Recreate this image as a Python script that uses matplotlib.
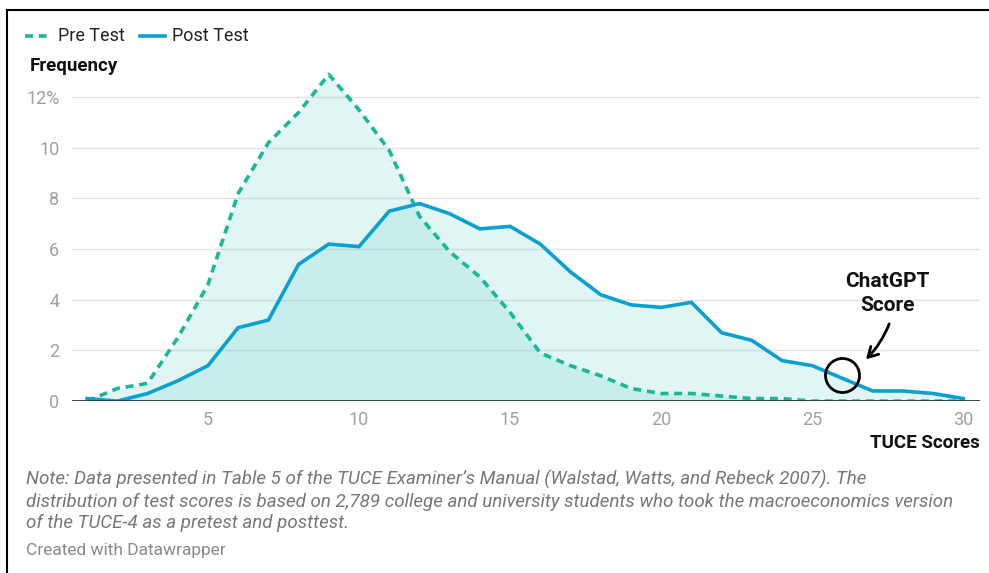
import matplotlib.pyplot as plt
from matplotlib.lines import Line2D

plt.rcParams['font.family'] = ['Roboto', 'DejaVu Sans']

# TUCE score distributions (percent of students)
scores = list(range(1, 31))
pre_test = [0.0, 0.5, 0.7, 2.5, 4.6, 8.2, 10.2, 11.4, 12.9, 11.5,
            9.9, 7.3, 5.9, 4.9, 3.5, 1.9, 1.4, 1.0, 0.5, 0.3,
            0.3, 0.2, 0.1, 0.1, 0.0, 0.0, 0.0, 0.0, 0.0, 0.0]
post_test = [0.1, 0.0, 0.3, 0.8, 1.4, 2.9, 3.2, 5.4, 6.2, 6.1,
             7.5, 7.8, 7.4, 6.8, 6.9, 6.2, 5.1, 4.2, 3.8, 3.7,
             3.9, 2.7, 2.4, 1.6, 1.4, 0.9, 0.4, 0.4, 0.3, 0.1]
chatgpt_score = 26
yticks = [0, 2, 4, 6, 8, 10, 12]
ytick_labels = ['0', '2', '4', '6', '8', '10', '12%']
xticks = [5, 10, 15, 20, 25, 30]

pre_color = '#17b897'
post_color = '#0aa0d0'
fill_color = '#38c2c2'

fig = plt.figure(figsize=(9.89, 5.73), dpi=100)
ax = fig.add_axes([0.0728, 0.300, 0.918, 0.579])

ax.fill_between(scores, pre_test, 0, color=fill_color, alpha=0.15, lw=0)
ax.fill_between(scores, post_test, 0, color=fill_color, alpha=0.15, lw=0)
ax.plot(scores, pre_test, color=pre_color, lw=2.6, ls=(0, (2.2, 1.6)))
ax.plot(scores, post_test, color=post_color, lw=2.6, solid_joinstyle='miter')

ax.set_xlim(0.5, 30.55)
ax.set_ylim(0, 13.1)
ax.set_yticks(yticks)
ax.set_yticklabels(ytick_labels)
ax.set_xticks(xticks)
ax.grid(axis='y', color='#e3e3e3', lw=1)
ax.set_axisbelow(True)
ax.axhline(0, color='#333333', lw=2, zorder=5)
for s in ax.spines.values():
    s.set_visible(False)
ax.tick_params(length=0, colors='#a0a0a0', labelsize=13)
ax.tick_params(axis='y', pad=9)
ax.tick_params(axis='x', pad=7)

# ChatGPT score marker
cy = post_test[scores.index(chatgpt_score)] + 0.15
ax.plot([chatgpt_score], [cy], marker='o', ms=24.5, mfc='none', mec='black',
        mew=2, zorder=6)
ax.annotate('', xy=(chatgpt_score + 0.78, cy + 0.6),
            xytext=(chatgpt_score + 1.55, cy + 2.0),
            arrowprops=dict(arrowstyle='->,head_length=0.7,head_width=0.4',
                            color='black', lw=2, shrinkA=0, shrinkB=0,
                            connectionstyle='arc3,rad=-0.1'))
ax.text(chatgpt_score + 1.5, cy + 3.2, 'ChatGPT\nScore', ha='center',
        va='center', fontsize=15, fontweight='bold', color='#111111',
        linespacing=1.3)

# legend
fig.add_artist(Line2D([25 / 989, 48 / 989], [1 - 36 / 573] * 2, color=pre_color,
                      lw=2.6, ls=(0, (2.2, 1.6))))
fig.text(58 / 989, 1 - 36 / 573, 'Pre Test', fontsize=13, color='#222222',
         va='center')
fig.add_artist(Line2D([140 / 989, 165 / 989], [1 - 36 / 573] * 2,
                      color=post_color, lw=2.6))
fig.text(172 / 989, 1 - 36 / 573, 'Post Test', fontsize=13, color='#222222',
         va='center')

fig.text(30 / 989, 1 - 66 / 573, 'Frequency', fontsize=13.5,
         fontweight='bold', color='#111111', va='center')
fig.text(980 / 989, 1 - 443 / 573, 'TUCE Scores', fontsize=13.5,
         fontweight='bold', color='#111111', va='center', ha='right')

note = ("Note: Data presented in Table 5 of the TUCE Examiner\u2019s Manual "
        "(Walstad, Watts, and Rebeck 2007). The\n"
        "distribution of test scores is based on 2,789 college and university "
        "students who took the macroeconomics version\n"
        "of the TUCE-4 as a pretest and posttest.")
fig.text(26 / 989, 1 - 501 / 573, note, fontsize=13.5, style='italic',
         color='#777777', va='center', linespacing=1.24)
fig.text(26 / 989, 1 - 550 / 573, 'Created with Datawrapper', fontsize=12.5,
         color='#8a8a8a', va='center')

# frame lines (left and top)
fig.add_artist(Line2D([7 / 989, 7 / 989], [0, 1 - 10 / 573], color='black', lw=1.5))
fig.add_artist(Line2D([7 / 989, 1], [1 - 10 / 573] * 2, color='black', lw=1.5))

fig.savefig('out.png', dpi=100, facecolor='white')
